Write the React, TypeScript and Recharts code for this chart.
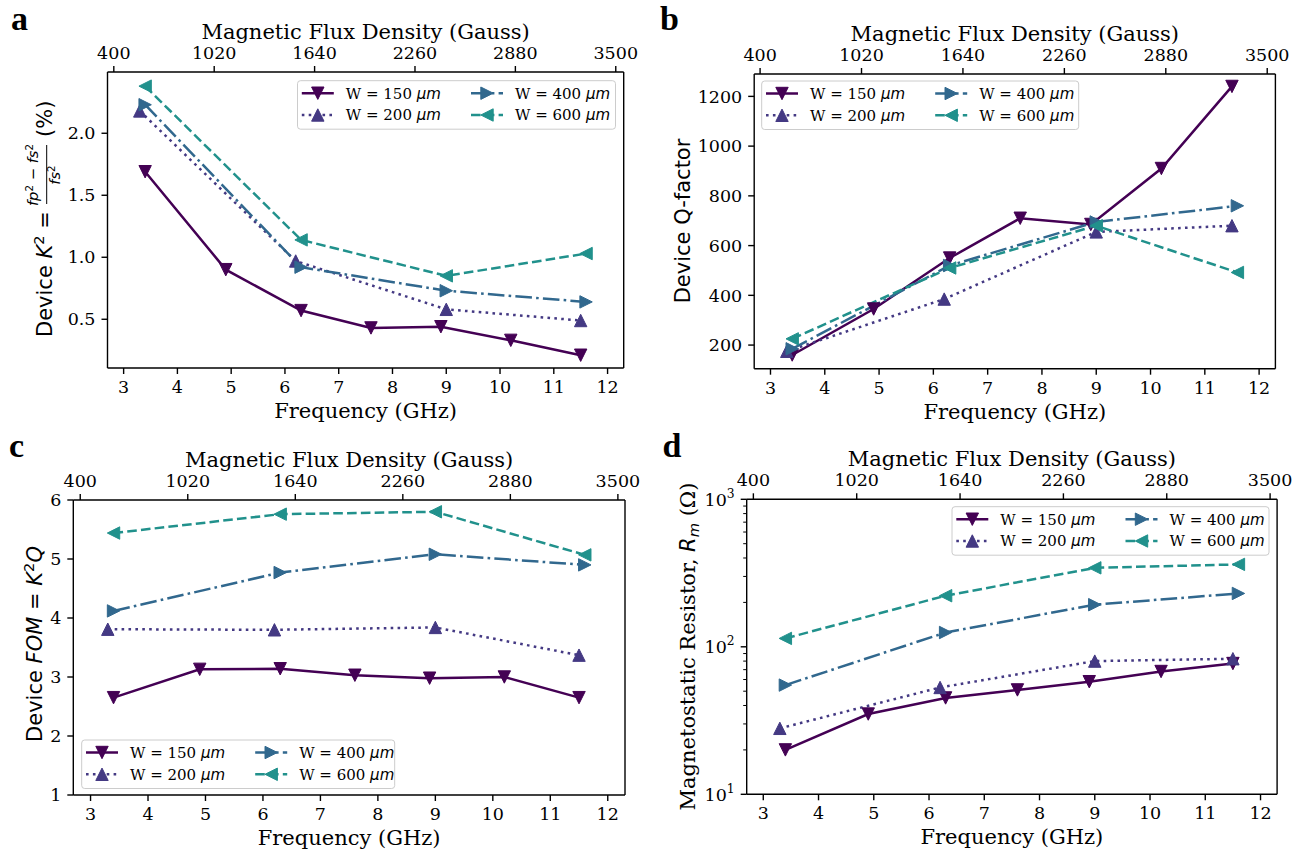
import React from "react";
import { LineChart, Line, XAxis, YAxis, Legend } from "recharts";

// frequency (GHz) of the measured points for each width
const freq150 = [3.4, 4.9, 6.3, 7.6, 8.9, 10.2, 11.5];
const freq200 = [3.3, 6.2, 9.0, 11.5];
const freq400 = [3.4, 6.3, 9.0, 11.6];
const freq600 = [3.4, 6.3, 9.0, 11.6];
const freqs = [freq150, freq200, freq400, freq600];

const widthLabels = ["150", "200", "400", "600"];

// a: coupling K^2 (%)
const k2_150 = [1.69, 0.9, 0.57, 0.43, 0.44, 0.33, 0.21];
const k2_200 = [2.18, 0.97, 0.58, 0.49];
const k2_400 = [2.23, 0.92, 0.73, 0.64];
const k2_600 = [2.38, 1.14, 0.85, 1.03];

// b: Q-factor
const q_150 = [160, 345, 550, 710, 685, 910, 1240];
const q_200 = [175, 385, 655, 680];
const q_400 = [185, 520, 695, 760];
const q_600 = [225, 510, 680, 492];

// c: FOM = K^2 Q
const fom_150 = [2.65, 3.13, 3.14, 3.03, 2.98, 3.0, 2.65];
const fom_200 = [3.81, 3.8, 3.84, 3.37];
const fom_400 = [4.12, 4.77, 5.08, 4.9];
const fom_600 = [5.44, 5.76, 5.8, 5.07];

// d: magnetostatic resistor (ohm)
const rm_150 = [20, 35, 45, 51, 58, 68, 77];
const rm_200 = [28, 53, 80, 83];
const rm_400 = [55, 125, 193, 230];
const rm_600 = [114, 222, 343, 362];

const freqTicks = [3, 4, 5, 6, 7, 8, 9, 10, 11, 12];
const gaussTicks = [400, 1020, 1640, 2260, 2880, 3500];
const k2Ticks = [0.5, 1.0, 1.5, 2.0];
const qTicks = [200, 400, 600, 800, 1000, 1200];
const fomTicks = [1, 2, 3, 4, 5, 6];
const rmTicks = [10, 20, 30, 40, 50, 60, 70, 80, 90, 100, 200, 300, 400, 500, 600, 700, 800, 900, 1000];
const rmMajor = [10, 100, 1000];

// end points that tie the secondary (top / right) axes to the chart; never drawn
const frameAnchor = [
  { x: 400, v: 0 },
  { x: 3500, v: 1 },
];

const SERIES = [
  { color: "#440154", dash: undefined as string | undefined, marker: "down" },
  { color: "#443983", dash: "2.6 4.3", marker: "up" },
  { color: "#31688e", dash: "16.6 4.2 2.6 4.2", marker: "right" },
  { color: "#21918c", dash: "9.6 4.2", marker: "left" },
];

const W = 650;
const H = 425;
const SERIF = "DejaVu Serif";
const SANS = "DejaVu Sans";
const LW = 2.5;
const SPINE = 1.4;

function tri(kind: string, cx: number, cy: number, s = 6.2) {
  switch (kind) {
    case "down":
      return `M${cx},${cy + s}L${cx - s},${cy - s}L${cx + s},${cy - s}Z`;
    case "up":
      return `M${cx},${cy - s}L${cx - s},${cy + s}L${cx + s},${cy + s}Z`;
    case "right":
      return `M${cx + s},${cy}L${cx - s},${cy - s}L${cx - s},${cy + s}Z`;
    default:
      return `M${cx - s},${cy}L${cx + s},${cy - s}L${cx + s},${cy + s}Z`;
  }
}

const toPts = (xs: number[], ys: number[]) => xs.map((x, i) => ({ x, y: ys[i] }));

type LegendCfg = { x: number; y: number; w: number };

function LegendBox({ lg }: { lg: LegendCfg }) {
  const cols = [4.3, 173.5];
  const rows = [12.5, 34.3];
  const len = 32;
  return (
    <svg width={W} height={H} style={{ position: "absolute", left: 0, top: 0 }}>
      <rect
        x={lg.x}
        y={lg.y}
        width={lg.w}
        height={48.5}
        rx={3}
        fill="#fff"
        fillOpacity={0.8}
        stroke="#cccccc"
        strokeWidth={1}
      />
      {SERIES.map((s, i) => {
        const hx = lg.x + cols[i < 2 ? 0 : 1];
        const hy = lg.y + rows[i % 2];
        return (
          <g key={i}>
            <line x1={hx} x2={hx + len} y1={hy} y2={hy} stroke={s.color} strokeWidth={LW} strokeDasharray={s.dash} />
            <path d={tri(s.marker, hx + len / 2, hy)} fill={s.color} stroke={s.color} strokeWidth={1} />
            <text x={hx + 44} y={hy + 5.4} fontFamily={SERIF} fontSize={15} fill="#000">
              {`W = ${widthLabels[i]} `}
              <tspan fontFamily={SANS} fontStyle="italic">
                μm
              </tspan>
            </text>
          </g>
        );
      })}
    </svg>
  );
}

type PanelCfg = {
  left: number;
  top: number;
  plot: { l: number; r: number; t: number; b: number };
  gaussDomain: [number, number];
  yDomain: [number, number];
  yTicks: number[];
  log?: boolean;
  yFmt?: (v: number) => string;
  values: number[][];
  legend: LegendCfg;
  yLabel: () => React.ReactElement;
  letter: string;
  letterPos: [number, number];
};

function YLabelA() {
  return (
    <g transform="translate(52,337) rotate(-90)" fontFamily={SANS} fontSize={21} fill="#000">
      <text x={0} y={0}>
        {"Device "}
        <tspan fontStyle="italic">K</tspan>
        <tspan fontSize={14.7} dy={-8}>
          2
        </tspan>
        <tspan dy={8}>{" ="}</tspan>
      </text>
      <text x={162} y={-13.8} textAnchor="middle" fontSize={14.7}>
        <tspan fontStyle="italic">fp</tspan>
        <tspan fontSize={10.3} dy={-5}>
          2
        </tspan>
        <tspan dy={5}>{" − "}</tspan>
        <tspan fontStyle="italic">fs</tspan>
        <tspan fontSize={10.3} dy={-5}>
          2
        </tspan>
      </text>
      <line x1={133} x2={192} y1={-5.3} y2={-5.3} stroke="#000" strokeWidth={1} />
      <text x={162} y={8.2} textAnchor="middle" fontSize={14.7}>
        <tspan fontStyle="italic">fs</tspan>
        <tspan fontSize={10.3} dy={-5}>
          2
        </tspan>
      </text>
      <text x={200} y={0}>
        (%)
      </text>
    </g>
  );
}

function YLabelB() {
  return (
    <text transform="translate(39.6,221) rotate(-90)" textAnchor="middle" fontFamily={SANS} fontSize={21} fill="#000">
      Device Q-factor
    </text>
  );
}

function YLabelC() {
  return (
    <text transform="translate(41.7,219) rotate(-90)" textAnchor="middle" fontFamily={SANS} fontSize={21} fill="#000">
      {"Device "}
      <tspan fontStyle="italic">FOM</tspan>
      {" = "}
      <tspan fontStyle="italic">K</tspan>
      <tspan fontSize={14.7} dy={-8}>
        2
      </tspan>
      <tspan dy={8} fontStyle="italic">
        Q
      </tspan>
    </text>
  );
}

function YLabelD() {
  return (
    <text transform="translate(44.5,221.5) rotate(-90)" textAnchor="middle" fontFamily={SERIF} fontSize={21} fill="#000">
      {"Magnetostatic Resistor, "}
      <tspan fontFamily={SANS} fontStyle="italic">
        R
      </tspan>
      <tspan fontFamily={SANS} fontStyle="italic" fontSize={14.7} dy={4}>
        m
      </tspan>
      <tspan dy={-4}>{" (Ω)"}</tspan>
    </text>
  );
}

const PANELS: PanelCfg[] = [
  {
    left: 0,
    top: 0,
    plot: { l: 107.5, r: 623.7, t: 72, b: 368 },
    gaussDomain: [361, 3549],
    yDomain: [0.107, 2.494],
    yTicks: k2Ticks,
    yFmt: (v) => v.toFixed(1),
    values: [k2_150, k2_200, k2_400, k2_600],
    legend: { x: 297.5, y: 80.7, w: 318 },
    yLabel: YLabelA,
    letter: "a",
    letterPos: [11, 30],
  },
  {
    left: 650,
    top: 0,
    plot: { l: 104.2, r: 625.4, t: 74, b: 368.7 },
    gaussDomain: [364, 3550],
    yDomain: [105, 1290],
    yTicks: qTicks,
    values: [q_150, q_200, q_400, q_600],
    legend: { x: 111.7, y: 81, w: 317 },
    yLabel: YLabelB,
    letter: "b",
    letterPos: [10, 30],
  },
  {
    left: 0,
    top: 425,
    plot: { l: 73.3, r: 625, t: 75, b: 370 },
    gaussDomain: [360, 3541],
    yDomain: [1, 6],
    yTicks: fomTicks,
    values: [fom_150, fom_200, fom_400, fom_600],
    legend: { x: 81.7, y: 315, w: 313 },
    yLabel: YLabelC,
    letter: "c",
    letterPos: [9, 32],
  },
  {
    left: 650,
    top: 425,
    plot: { l: 96.7, r: 627.1, t: 74.3, b: 369.3 },
    gaussDomain: [360, 3542],
    yDomain: [10, 1000],
    yTicks: rmTicks,
    log: true,
    values: [rm_150, rm_200, rm_400, rm_600],
    legend: { x: 302, y: 81.7, w: 317 },
    yLabel: YLabelD,
    letter: "d",
    letterPos: [12.5, 32],
  },
];

const tickStyle = { fontSize: 17.5, fill: "#000", fontFamily: SERIF };

function Panel({ cfg }: { cfg: PanelCfg }) {
  const { l, r, t, b } = cfg.plot;
  const margin = { top: t - 30, bottom: H - b - 30, left: l - 60, right: W - r - 1 };
  const cx = (l + r) / 2;

  const logTick = (props: any) => {
    const { y, payload } = props;
    const v = payload.value as number;
    const major = rmMajor.includes(v);
    return (
      <g>
        <line x1={l - (major ? 6 : 3.5)} x2={l} y1={y} y2={y} stroke="#000" strokeWidth={major ? 1.4 : 1} />
        {major && (
          <text x={l - 12} y={y} dy={6.2} textAnchor="end" fontFamily={SERIF} fontSize={17.5} fill="#000">
            10
            <tspan fontSize={12.3} dy={-8}>
              {Math.round(Math.log10(v))}
            </tspan>
          </text>
        )}
      </g>
    );
  };

  return (
    <div style={{ position: "absolute", left: cfg.left, top: cfg.top, width: W, height: H }}>
      <LineChart width={W} height={H} margin={margin}>
        <XAxis
          xAxisId="b"
          dataKey="x"
          type="number"
          domain={[2.7, 12.3]}
          ticks={freqTicks}
          allowDataOverflow
          interval={0}
          height={30}
          stroke="#000"
          axisLine={{ stroke: "#000", strokeWidth: SPINE }}
          tickLine={{ stroke: "#000", strokeWidth: SPINE }}
          tickSize={6}
          tickMargin={6.6}
          tick={tickStyle}
          label={() => (
            <text x={cx} y={b + 50} textAnchor="middle" fontFamily={SERIF} fontSize={21} fill="#000">
              Frequency (GHz)
            </text>
          )}
        />
        <XAxis
          xAxisId="t"
          dataKey="x"
          orientation="top"
          type="number"
          domain={cfg.gaussDomain}
          ticks={gaussTicks}
          allowDataOverflow
          interval={0}
          height={30}
          stroke="#000"
          axisLine={{ stroke: "#000", strokeWidth: SPINE }}
          tickLine={{ stroke: "#000", strokeWidth: SPINE }}
          tickSize={6}
          tickMargin={7}
          tick={tickStyle}
          label={() => (
            <g>
              <text x={cx} y={t - 33} textAnchor="middle" fontFamily={SERIF} fontSize={21} fill="#000">
                Magnetic Flux Density (Gauss)
              </text>
              <text
                x={cfg.letterPos[0]}
                y={cfg.letterPos[1]}
                fontFamily="Liberation Serif"
                fontWeight="bold"
                fontSize={34}
                fill="#000"
              >
                {cfg.letter}
              </text>
            </g>
          )}
        />
        <YAxis
          yAxisId="l"
          type="number"
          domain={cfg.yDomain}
          scale={cfg.log ? "log" : "auto"}
          ticks={cfg.yTicks}
          allowDataOverflow
          interval={0}
          width={60}
          stroke="#000"
          axisLine={{ stroke: "#000", strokeWidth: SPINE }}
          tickSize={6}
          tickMargin={6}
          tickLine={cfg.log ? false : { stroke: "#000", strokeWidth: SPINE }}
          tick={cfg.log ? logTick : tickStyle}
          tickFormatter={cfg.yFmt}
          label={cfg.yLabel}
        />
        <YAxis
          yAxisId="r"
          orientation="right"
          type="number"
          domain={[0, 1]}
          allowDataOverflow
          width={1}
          tick={false}
          tickLine={false}
          axisLine={{ stroke: "#000", strokeWidth: SPINE }}
        />
        <Line
          xAxisId="t"
          yAxisId="r"
          data={frameAnchor}
          dataKey="v"
          stroke="none"
          dot={false}
          activeDot={false}
          legendType="none"
          isAnimationActive={false}
        />
        {SERIES.map((s, i) => (
          <Line
            key={i}
            xAxisId="b"
            yAxisId="l"
            data={toPts(freqs[i], cfg.values[i])}
            dataKey="y"
            stroke={s.color}
            strokeWidth={LW}
            strokeDasharray={s.dash}
            isAnimationActive={false}
            activeDot={false}
            dot={(p: any) => (
              <path
                key={`d-${i}-${p.index}`}
                d={tri(s.marker, p.cx, p.cy)}
                fill={s.color}
                stroke={s.color}
                strokeWidth={1}
              />
            )}
          />
        ))}
        <Legend
          layout="vertical"
          align="center"
          verticalAlign="middle"
          wrapperStyle={{ position: "absolute", left: 0, top: 0, width: W, height: H, pointerEvents: "none" }}
          content={() => <LegendBox lg={cfg.legend} />}
        />
      </LineChart>
    </div>
  );
}

export default function App() {
  return (
    <div style={{ position: "absolute", left: 0, top: 0, width: 1301, height: 851, background: "#fff" }}>
      {PANELS.map((p) => (
        <Panel key={p.letter} cfg={p} />
      ))}
    </div>
  );
}
